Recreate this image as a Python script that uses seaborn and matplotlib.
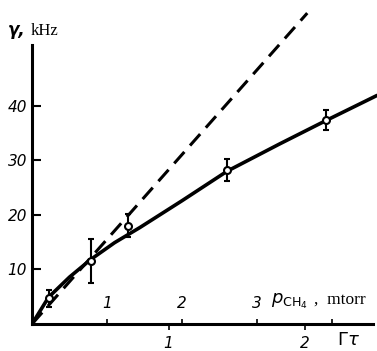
import numpy as np
import matplotlib
matplotlib.use("Agg")
import matplotlib.pyplot as plt
import seaborn as sns

# measured points (pressure in mtorr, gamma in kHz)
p_meas = [0.22, 0.78, 1.28, 2.60, 3.92]
g_meas = [4.7, 11.6, 18.0, 28.3, 37.4]
g_err = [1.5, 4.0, 2.1, 2.0, 1.9]

# solid curve
curve_p = [0, 0.22, 0.5, 0.78, 1.1, 1.44, 2.0, 2.6, 3.3, 3.92, 4.6]
curve_g = [0, 4.9, 8.6, 11.8, 14.9, 17.7, 22.6, 28.0, 33.0, 37.3, 41.9]

# dashed straight line
dash_p = [0, 3.67]
dash_g = [0, 57.0]

p_ticks = [1, 2, 3, 4]
p_ticklabels = ['1', '2', '3', '']
y_ticks = [10, 20, 30, 40]
gt_ticks = [1, 2]
gt_per_mtorr = 1 / 1.82

sns.set_style('white')

fig = plt.figure(figsize=(3.77, 3.51), dpi=100)
ax = fig.add_axes([0.085, 0.077, 0.915, 0.895])

sns.lineplot(x=curve_p, y=curve_g, color='black', lw=2.6, ax=ax)
sns.lineplot(x=dash_p, y=dash_g, color='black', lw=2.2, ax=ax,
             dashes=False, linestyle=(0, (5, 2.8)))
ax.errorbar(p_meas, g_meas, yerr=g_err, fmt='o', ms=5, mfc='white',
            mec='black', mew=1.5, ecolor='black', elinewidth=1.5,
            capsize=2.5, capthick=1.5, zorder=5)

ax.set_xlim(0, 4.6)
ax.set_ylim(0, 57.6)
for s in ['top', 'right']:
    ax.spines[s].set_visible(False)
for s in ['left', 'bottom']:
    ax.spines[s].set_linewidth(2.2)
    ax.spines[s].set_color('black')
ax.spines['left'].set_bounds(0, 51.2)
ax.spines['bottom'].set_bounds(0, 4.55)

num_font = dict(family='DejaVu Sans', style='italic', size=11)

ax.set_yticks(y_ticks)
ax.set_yticklabels([str(v) for v in y_ticks], fontdict=num_font)
ax.tick_params(axis='y', direction='in', length=6.5, width=1.5, pad=3.5,
               left=True, colors='black')

ax.set_xticks(p_ticks)
ax.set_xticklabels(p_ticklabels, fontdict=num_font)
ax.tick_params(axis='x', direction='in', length=3.5, width=1.2, pad=-20,
               bottom=True, colors='black')

sec = ax.secondary_xaxis('bottom', functions=(lambda p: p * gt_per_mtorr,
                                               lambda g: g / gt_per_mtorr))
sec.set_xticks(gt_ticks)
sec.set_xticklabels([str(v) for v in gt_ticks], fontdict=num_font)
sec.tick_params(axis='x', direction='out', length=4, width=1.2, pad=5,
                colors='black')
sec.spines['bottom'].set_visible(False)

fig.text(0.021, 0.9, 'γ,', family='DejaVu Sans', style='italic',
         fontweight='bold', fontsize=12, color='black')
fig.text(0.08, 0.9, 'kHz', family='Liberation Serif', fontsize=12,
         color='black')
fig.text(0.72, 0.135, r'$p_{\mathrm{CH_4}}$', fontsize=13, color='black')
fig.text(0.832, 0.135, ',  mtorr', family='Liberation Serif', fontsize=12.5,
         color='black')
fig.text(0.893, 0.018, r'$\mathit{\Gamma\tau}$', fontsize=13, color='black')

fig.savefig('out.png', dpi=100)
